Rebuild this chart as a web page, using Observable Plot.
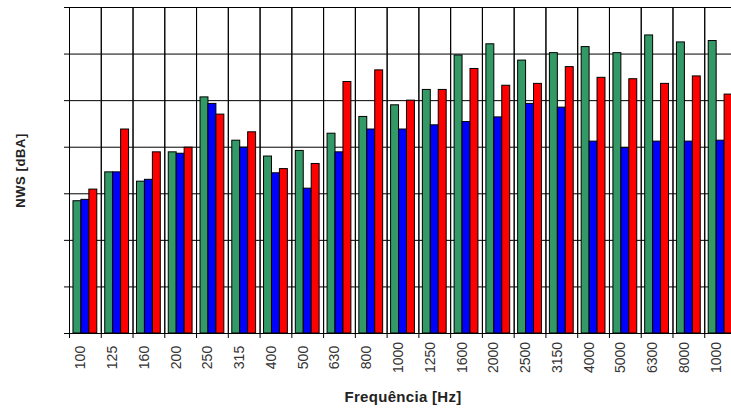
<!DOCTYPE html>
<html>
<head>
<meta charset="utf-8">
<script src="https://cdn.jsdelivr.net/npm/d3@7"></script>
<script src="https://cdn.jsdelivr.net/npm/@observablehq/plot@0.6"></script>
<style>
  html, body { margin: 0; padding: 0; background: #fff; overflow: hidden; }
  #chart { width: 731px; height: 408px; overflow: hidden; }
  #chart svg { max-width: none !important; }
  g[aria-label="freq-labels"] text { letter-spacing: 2px; }
  g[aria-label="y-axis label"] text { letter-spacing: 0.6px; }
  g[aria-label="fx-axis label"] text { letter-spacing: 0.3px; }
</style>
</head>
<body>
<div id="chart"></div>
<script>
const categories = ["100","125","160","200","250","315","400","500","630","800","1000","1250","1600","2000","2500","3150","4000","5000","6300","8000","10000"];
const tickLabels = ["100","125","160","200","250","315","400","500","630","800","1000","1250","1600","2000","2500","3150","4000","5000","6300","8000","1000"];
const series = ["Série 1", "Série 2", "Série 3"];
const seriesColors = ["#339966", "#0000ff", "#ff0000"];
const greenValues = [28.4,34.6,32.6,38.9,50.7,41.4,38.0,39.2,42.9,46.5,49.0,52.3,59.7,62.1,58.6,60.2,61.5,60.2,64.0,62.5,62.8];
const blueValues  = [28.7,34.6,33.0,38.6,49.3,39.9,34.4,31.1,38.9,43.8,43.8,44.7,45.4,46.4,49.3,48.5,41.2,39.8,41.2,41.2,41.4];
const redValues   = [30.9,43.8,38.9,39.9,47.0,43.2,35.3,36.4,54.0,56.5,50.0,52.3,56.8,53.2,53.6,57.2,54.9,54.6,53.6,55.2,51.3];
const yTicks = [0,10,20,30,40,50,60,70];

const valuesBySeries = [greenValues, blueValues, redValues];
const data = categories.flatMap((c, i) =>
  series.map((s, j) => ({freq: c, series: s, value: valuesBySeries[j][i]}))
);

const W = 736, mL = 69, mR = 0;
const step = (W - mL - mR) / categories.length;

const chart = Plot.plot({
  width: W,
  height: 408,
  marginLeft: mL,
  marginRight: mR,
  marginTop: 7,
  marginBottom: 75,
  style: {fontFamily: "'Liberation Sans', Arial, sans-serif", background: "white", color: "black", maxWidth: "none"},
  fx: {domain: categories, padding: 0, round: false},
  x: {domain: series, paddingInner: 0, paddingOuter: 0.5, round: false, axis: null},
  y: {domain: [0, 70]},
  color: {domain: series, range: seriesColors},
  marks: [
    Plot.gridY(yTicks, {stroke: "black", strokeOpacity: 1, strokeWidth: 1}),
    Plot.frame({stroke: "black", strokeWidth: 1}),
    Plot.barY(data, {fx: "freq", x: "series", y: "value", fill: "series", stroke: "black", strokeWidth: 1}),
    Plot.text(categories, {fx: d => d, text: (d, i) => tickLabels[i], frameAnchor: "bottom", dy: 24, rotate: -90, fontSize: 14, fill: "#333", ariaLabel: "freq-labels"}),
    Plot.axisFx({anchor: "bottom", tickSize: 5, tickFormat: () => "", dx: -step / 2, label: null}),
    Plot.axisFx({anchor: "bottom", tickSize: 0, tickFormat: () => "", label: "Frequência [Hz]", labelAnchor: "center", labelArrow: "none", labelOffset: 68, fontSize: 15, fontWeight: "bold", fill: "#222"}),
    Plot.axisY({anchor: "left", ticks: yTicks, tickSize: 5, tickFormat: () => "", label: "NWS [dBA]", labelAnchor: "center", labelArrow: "none", labelOffset: 54, fontSize: 13, fontWeight: "bold", fill: "#222"})
  ]
});
document.getElementById("chart").appendChild(chart);
</script>
</body>
</html>
